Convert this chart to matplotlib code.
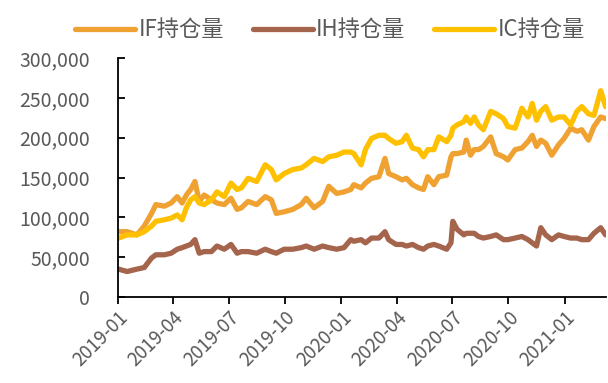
import numpy as np
import pandas as pd
import matplotlib
matplotlib.use("Agg")
import matplotlib.pyplot as plt
import matplotlib.dates as mdates
from matplotlib.ticker import FuncFormatter

plt.rcParams['font.family'] = ['Noto Sans CJK SC', 'DejaVu Sans']

# Daten (Werte in Tausend Kontrakten)
dates = [
    "2019-01-02", "2019-01-16", "2019-02-01", "2019-02-13", "2019-02-25", "2019-03-04",
    "2019-03-18", "2019-03-29", "2019-04-08", "2019-04-16", "2019-04-23", "2019-04-30",
    "2019-05-07", "2019-05-14", "2019-05-22", "2019-06-03", "2019-06-12", "2019-06-24",
    "2019-07-05", "2019-07-15", "2019-07-22", "2019-08-02", "2019-08-16", "2019-08-30",
    "2019-09-09", "2019-09-17", "2019-09-30", "2019-10-14", "2019-10-28", "2019-11-05",
    "2019-11-18", "2019-12-02", "2019-12-12", "2019-12-25", "2020-01-06", "2020-01-17",
    "2020-01-22", "2020-02-03", "2020-02-10", "2020-02-20", "2020-03-03", "2020-03-13",
    "2020-03-19", "2020-03-31", "2020-04-10", "2020-04-17", "2020-04-27", "2020-05-07",
    "2020-05-15", "2020-05-22", "2020-06-01", "2020-06-09", "2020-06-22", "2020-06-29",
    "2020-07-02", "2020-07-09", "2020-07-20", "2020-07-24", "2020-07-31", "2020-08-06",
    "2020-08-13", "2020-08-21", "2020-09-02", "2020-09-11", "2020-09-23", "2020-09-30",
    "2020-10-12", "2020-10-23", "2020-11-02", "2020-11-09", "2020-11-16", "2020-11-23",
    "2020-12-01", "2020-12-11", "2020-12-22", "2020-12-31", "2021-01-11", "2021-01-21",
    "2021-01-29", "2021-02-09", "2021-02-18", "2021-03-01", "2021-03-09",
]
if_oi = [
    82, 82, 78, 89, 105, 116, 114, 118, 126, 118, 128, 135,
    145, 120, 128, 122, 118, 116, 124, 110, 112, 120, 116, 126,
    122, 105, 107, 110, 116, 124, 112, 120, 139, 130, 132, 135,
    141, 137, 143, 149, 151, 174, 155, 151, 147, 149, 141, 137,
    135, 151, 141, 151, 153, 176, 180, 180, 182, 197, 178, 185,
    185, 189, 201, 180, 176, 172, 185, 187, 195, 203, 189, 197,
    193, 178, 191, 199, 212, 208, 210, 197, 214, 226, 224,
]
ih_oi = [
    35, 32, 35, 37, 49, 53, 53, 55, 60, 62, 64, 66,
    72, 55, 57, 57, 64, 60, 66, 55, 57, 57, 55, 60,
    57, 55, 60, 60, 62, 64, 60, 64, 62, 60, 62, 72,
    70, 72, 68, 74, 74, 82, 72, 66, 66, 64, 66, 62,
    60, 64, 66, 64, 60, 68, 95, 85, 78, 80, 80, 80,
    76, 74, 76, 78, 72, 72, 74, 76, 72, 68, 64, 87,
    78, 72, 78, 76, 74, 74, 72, 72, 80, 87, 78,
]
ic_oi = [
    74, 78, 78, 82, 89, 95, 97, 99, 103, 97, 112, 122,
    126, 118, 116, 122, 132, 126, 143, 135, 137, 149, 145, 166,
    160, 147, 155, 160, 162, 166, 174, 170, 176, 178, 182, 182,
    180, 166, 185, 199, 203, 203, 199, 193, 195, 203, 187, 185,
    176, 185, 185, 201, 195, 203, 212, 216, 220, 226, 218, 226,
    216, 210, 233, 230, 224, 214, 212, 237, 226, 243, 222, 233,
    239, 222, 226, 226, 216, 233, 239, 230, 228, 259, 239,
]

x = pd.to_datetime(dates)
series = [
    ("IF持仓量", if_oi, "#EFA232"),
    ("IH持仓量", ih_oi, "#A5644C"),
    ("IC持仓量", ic_oi, "#FFC000"),
]

fig = plt.figure(figsize=(6.08, 3.83), dpi=100)
ax = fig.add_axes([0.194, 0.2245, 0.803, 0.624])

for name, vals, col in series:
    ax.plot(x, np.array(vals) * 1000, color=col, lw=3.8, label=name,
            solid_joinstyle='round', solid_capstyle='round')

ax.set_xlim(pd.Timestamp("2019-01-01"), pd.Timestamp("2021-03-10"))
ax.set_ylim(0, 300000)
ax.set_yticks(np.arange(0, 300001, 50000))
ax.yaxis.set_major_formatter(FuncFormatter(lambda v, p: f"{int(v):,}"))
ax.xaxis.set_major_locator(mdates.MonthLocator(bymonth=[1, 4, 7, 10]))
ax.xaxis.set_major_formatter(mdates.DateFormatter("%Y-%m"))

for s in ["top", "right"]:
    ax.spines[s].set_visible(False)
for s in ["left", "bottom"]:
    ax.spines[s].set_color("black")
    ax.spines[s].set_linewidth(1.3)

ax.tick_params(axis='y', direction='in', length=5, width=1.3, colors='black',
               labelcolor='#595959', labelsize=14, pad=20)
ax.tick_params(axis='x', direction='out', length=5, width=1.3, colors='black',
               labelcolor='#595959', labelsize=13.5, pad=2)
for lab in ax.get_xticklabels():
    lab.set_rotation(45)
    lab.set_ha('right')
    lab.set_rotation_mode('anchor')

fig.legend(loc='center', bbox_to_anchor=(0.543, 0.922), ncol=3, frameon=False,
           fontsize=16, handlelength=2.7, handletextpad=0.15, columnspacing=1.3,
           labelcolor='#595959')

fig.savefig("out.png", dpi=100)
